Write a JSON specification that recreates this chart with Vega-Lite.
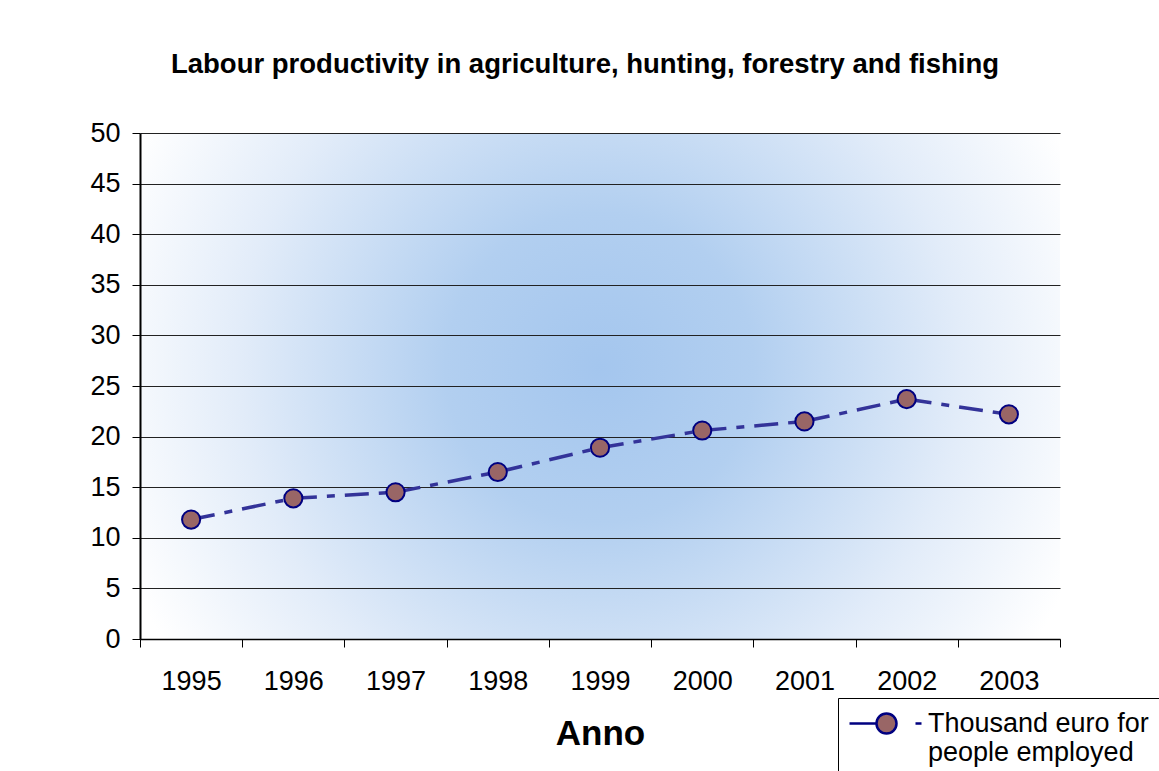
{
  "$schema": "https://vega.github.io/schema/vega-lite/v6.json",
  "autosize": "none",
  "width": 920,
  "height": 506,
  "padding": {"left": 140, "top": 133, "right": 99, "bottom": 132},
  "background": "white",
  "config": {
    "font": "Liberation Sans",
    "view": {
      "stroke": null,
      "fill": {
        "gradient": "radial",
        "x1": 0.5, "y1": 0.48, "r1": 0,
        "x2": 0.5, "y2": 0.48, "r2": 0.56,
        "stops": [
          {"offset": 0, "color": "#a4c6ee"},
          {"offset": 0.3, "color": "#b2cff0"},
          {"offset": 0.7, "color": "#e2ecf9"},
          {"offset": 1, "color": "#ffffff"}
        ]
      }
    }
  },
  "title": {
    "text": "Labour productivity in agriculture, hunting, forestry and fishing",
    "font": "Liberation Sans",
    "fontSize": 27.5,
    "fontWeight": "bold",
    "color": "black",
    "anchor": "middle",
    "frame": "group",
    "dx": -15,
    "offset": 41
  },
  "data": {
    "values": [
      {"year": "1995", "value": 11.8, "series": "Thousand euro for people employed"},
      {"year": "1996", "value": 13.9, "series": "Thousand euro for people employed"},
      {"year": "1997", "value": 14.5, "series": "Thousand euro for people employed"},
      {"year": "1998", "value": 16.5, "series": "Thousand euro for people employed"},
      {"year": "1999", "value": 18.9, "series": "Thousand euro for people employed"},
      {"year": "2000", "value": 20.6, "series": "Thousand euro for people employed"},
      {"year": "2001", "value": 21.5, "series": "Thousand euro for people employed"},
      {"year": "2002", "value": 23.7, "series": "Thousand euro for people employed"},
      {"year": "2003", "value": 22.2, "series": "Thousand euro for people employed"}
    ]
  },
  "encoding": {
    "x": {
      "field": "year",
      "type": "ordinal",
      "scale": {"type": "band", "paddingInner": 0, "paddingOuter": 0},
      "axis": {
        "title": "Anno",
        "titleFont": "Liberation Sans",
        "titleFontSize": 35,
        "titleFontWeight": "bold",
        "titleColor": "black",
        "titlePadding": 22,
        "labelAngle": 0,
        "labelFont": "Liberation Sans",
        "labelFontSize": 27,
        "labelColor": "black",
        "labelPadding": 21,
        "tickBand": "extent",
        "tickSize": 8,
        "tickColor": "black",
        "domainColor": "black",
        "domainWidth": 1.5,
        "grid": false
      }
    },
    "y": {
      "field": "value",
      "type": "quantitative",
      "scale": {"domain": [0, 50], "nice": false, "zero": true},
      "axis": {
        "title": null,
        "values": [0, 5, 10, 15, 20, 25, 30, 35, 40, 45, 50],
        "labelFont": "Liberation Sans",
        "labelFontSize": 27,
        "labelColor": "black",
        "labelPadding": 12,
        "tickSize": 8,
        "tickColor": "black",
        "domainColor": "black",
        "domainWidth": 2,
        "grid": true,
        "gridColor": "#222222",
        "gridWidth": 1,
        "gridOpacity": 1
      }
    }
  },
  "layer": [
    {
      "mark": {
        "type": "line",
        "color": "#333399",
        "strokeWidth": 3.5,
        "strokeDash": [24, 10, 8, 10]
      }
    },
    {
      "mark": {
        "type": "point",
        "shape": "circle",
        "filled": true,
        "size": 330,
        "stroke": "#000080",
        "strokeWidth": 2,
        "opacity": 1
      },
      "encoding": {
        "fill": {
          "field": "series",
          "type": "nominal",
          "scale": {"range": ["#996666"]},
          "legend": {
            "title": null,
            "orient": "none",
            "legendX": 698,
            "legendY": 565,
            "strokeColor": "black",
            "fillColor": "white",
            "padding": 12,
            "symbolType": "M-3.7,0H-1M-1,0A1,1 0 1,0 1,0A1,1 0 1,0 -1,0ZM2.9,0H3.5",
            "symbolSize": 400,
            "symbolStrokeColor": "#000080",
            "symbolStrokeWidth": 2.5,
            "symbolFillColor": "#996666",
            "symbolOffset": 23,
            "labelOffset": 28,
            "labelFont": "Liberation Sans",
            "labelFontSize": 27,
            "labelColor": "black",
            "labelLimit": 400,
            "labelExpr": "['Thousand euro for', 'people employed']"
          }
        }
      }
    }
  ]
}
